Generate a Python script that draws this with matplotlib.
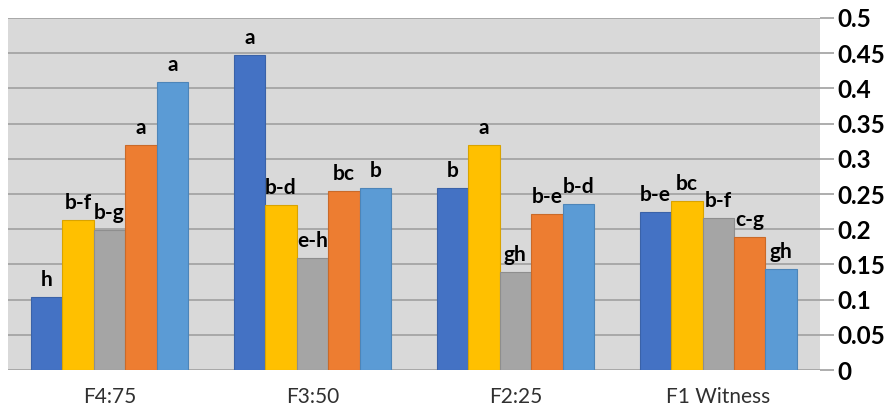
import matplotlib

matplotlib.use("Agg")
import matplotlib.pyplot as plt
import numpy as np

groups = ["F4:75", "F3:50", "F2:25", "F1 Witness"]

# one list per series (bar colour)
series_1 = [0.104, 0.447, 0.259, 0.225]
series_2 = [0.213, 0.235, 0.320, 0.240]
series_3 = [0.199, 0.159, 0.139, 0.216]
series_4 = [0.320, 0.254, 0.222, 0.189]
series_5 = [0.409, 0.258, 0.236, 0.143]

letters_1 = ["h", "a", "b", "b-e"]
letters_2 = ["b-f", "b-d", "a", "bc"]
letters_3 = ["b-g", "e-h", "gh", "b-f"]
letters_4 = ["a", "bc", "b-e", "c-g"]
letters_5 = ["a", "b", "b-d", "gh"]

y_ticks = [0, 0.05, 0.1, 0.15, 0.2, 0.25, 0.3, 0.35, 0.4, 0.45, 0.5]
y_tick_labels = ["0", "0.05", "0.1", "0.15", "0.2", "0.25", "0.3", "0.35", "0.4", "0.45", "0.5"]

colors = ["#4472C4", "#FFC000", "#A5A5A5", "#ED7D31", "#5B9BD5"]
edges = ["#3A62A8", "#D9A300", "#8E8E8E", "#C96A29", "#4D85B8"]

plt.rcParams["font.family"] = ["Lato", "DejaVu Sans"]

fig = plt.figure(figsize=(8.91, 4.08), dpi=100)
ax = fig.add_axes([0.009, 0.093, 0.911, 0.863])
ax.set_facecolor("#D9D9D9")

all_values = [series_1, series_2, series_3, series_4, series_5]
all_letters = [letters_1, letters_2, letters_3, letters_4, letters_5]

x = np.arange(len(groups))
width = 0.155
for i, (vals, labs) in enumerate(zip(all_values, all_letters)):
    offset = (i - 2) * width
    bars = ax.bar(x + offset, vals, width, color=colors[i], edgecolor=edges[i],
                  linewidth=0.8, zorder=3)
    ax.bar_label(bars, labels=labs, padding=5, fontsize=15, fontweight="bold",
                 color="black", zorder=4)

ax.set_xlim(-0.5, len(groups) - 0.5)
ax.set_ylim(0, 0.5)
ax.set_yticks(y_ticks)
ax.set_yticklabels(y_tick_labels)
ax.yaxis.tick_right()
ax.yaxis.grid(True, color="#A0A0A0", linewidth=1.2, zorder=0)
ax.tick_params(axis="y", length=10, width=1.2, color="#A0A0A0", pad=3,
               labelsize=17.5, labelcolor="black")
for lab in ax.get_yticklabels():
    lab.set_fontweight("bold")

ax.set_xticks(x)
ax.set_xticklabels(groups)
ax.tick_params(axis="x", length=0, pad=12, labelsize=15, labelcolor="#303030")

for s in ax.spines.values():
    s.set_visible(False)

fig.savefig("out.png", dpi=100)
